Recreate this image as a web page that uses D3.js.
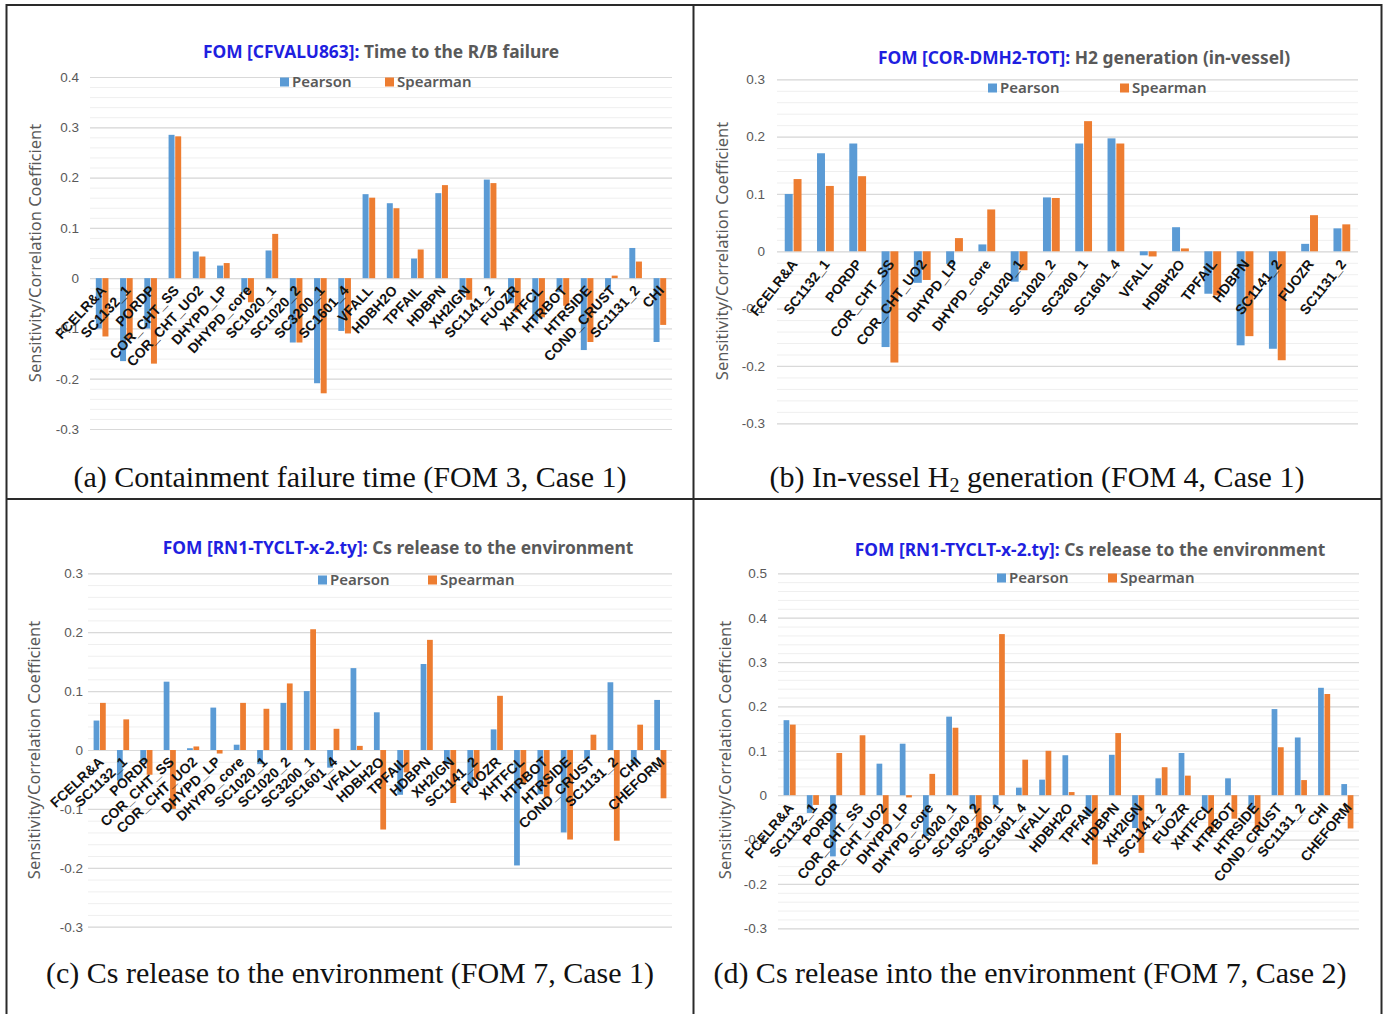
<!DOCTYPE html>
<html>
<head>
<meta charset="utf-8">
<script src="https://cdn.jsdelivr.net/npm/d3@7"></script>
<style>
  body { margin: 0; background: #fff; }
</style>
</head>
<body>
<div id="chart"></div>
<script>
// Categories for each panel
const catsA = ['FCELR&A', 'SC1132_1', 'PORDP', 'COR_CHT_SS', 'COR_CHT_UO2', 'DHYPD_LP', 'DHYPD_core',
  'SC1020_1', 'SC1020_2', 'SC3200_1', 'SC1601_4', 'VFALL', 'HDBH2O', 'TPFAIL', 'HDBPN', 'XH2IGN',
  'SC1141_2', 'FUOZR', 'XHTFCL', 'HTRBOT', 'HTRSIDE', 'COND_CRUST', 'SC1131_2', 'CHI'];
const catsB = ['FCELR&A', 'SC1132_1', 'PORDP', 'COR_CHT_SS', 'COR_CHT_UO2', 'DHYPD_LP', 'DHYPD_core',
  'SC1020_1', 'SC1020_2', 'SC3200_1', 'SC1601_4', 'VFALL', 'HDBH2O', 'TPFAIL', 'HDBPN',
  'SC1141_2', 'FUOZR', 'SC1131_2'];
const catsC = ['FCELR&A', 'SC1132_1', 'PORDP', 'COR_CHT_SS', 'COR_CHT_UO2', 'DHYPD_LP', 'DHYPD_core',
  'SC1020_1', 'SC1020_2', 'SC3200_1', 'SC1601_4', 'VFALL', 'HDBH2O', 'TPFAIL', 'HDBPN', 'XH2IGN',
  'SC1141_2', 'FUOZR', 'XHTFCL', 'HTRBOT', 'HTRSIDE', 'COND_CRUST', 'SC1131_2', 'CHI', 'CHEFORM'];
const catsD = catsC;

// Pearson / Spearman coefficients
const pearsonA = [-0.100, -0.165, -0.100, 0.285, 0.053, 0.025, -0.028, 0.055, -0.128, -0.209, -0.105, 0.167,
  0.149, 0.039, 0.169, -0.031, 0.196, -0.050, -0.085, -0.028, -0.143, -0.023, 0.060, -0.127];
const spearmanA = [-0.116, -0.120, -0.170, 0.282, 0.043, 0.030, -0.048, 0.088, -0.128, -0.229, -0.110, 0.160,
  0.139, 0.057, 0.185, -0.043, 0.189, -0.068, -0.078, -0.055, -0.127, 0.005, 0.033, -0.093];

const pearsonB = [0.100, 0.171, 0.188, -0.167, -0.055, -0.022, 0.012, -0.053, 0.094, 0.188, 0.197, -0.007,
  0.042, -0.074, -0.164, -0.170, 0.013, 0.040];
const spearmanB = [0.126, 0.114, 0.131, -0.194, -0.050, 0.023, 0.073, -0.033, 0.093, 0.227, 0.188, -0.009,
  0.005, -0.077, -0.148, -0.190, 0.063, 0.047];

const pearsonC = [0.050, -0.052, -0.020, 0.116, 0.003, 0.072, 0.009, -0.024, 0.080, 0.100, -0.030, 0.139,
  0.064, -0.076, 0.146, -0.024, -0.062, 0.035, -0.196, -0.075, -0.140, -0.015, 0.115, -0.024, 0.085];
const spearmanC = [0.080, 0.052, -0.042, -0.100, 0.006, -0.006, 0.080, 0.070, 0.113, 0.205, 0.036, 0.007,
  -0.135, -0.038, 0.187, -0.090, -0.049, 0.092, -0.058, -0.080, -0.152, 0.026, -0.154, 0.043, -0.082];

const pearsonD = [0.169, -0.040, -0.138, 0.000, 0.071, 0.116, -0.092, 0.177, -0.032, -0.022, 0.017, 0.035,
  0.090, -0.047, 0.091, -0.074, 0.038, 0.095, -0.035, 0.038, -0.032, 0.194, 0.130, 0.242, 0.025];
const spearmanD = [0.159, -0.022, 0.095, 0.135, -0.066, -0.005, 0.048, 0.152, -0.085, 0.363, 0.080, 0.100,
  0.007, -0.156, 0.140, -0.130, 0.063, 0.044, -0.081, -0.053, -0.077, 0.108, 0.034, 0.228, -0.075];

// Axis ticks
const ticksA = [-0.3, -0.2, -0.1, 0, 0.1, 0.2, 0.3, 0.4];
const ticksB = [-0.3, -0.2, -0.1, 0, 0.1, 0.2, 0.3];
const ticksC = [-0.3, -0.2, -0.1, 0, 0.1, 0.2, 0.3];
const ticksD = [-0.3, -0.2, -0.1, 0, 0.1, 0.2, 0.3, 0.4, 0.5];

const series = ['Pearson', 'Spearman'];
const colors = { Pearson: '#5B9BD5', Spearman: '#ED7D31' };
const yTitle = 'Sensitivity/Correlation Coefficient';

const width = 1387;
const height = 1014;

const svg = d3.select('#chart').append('svg')
  .attr('width', width)
  .attr('height', height)
  .style('font-family', '"Noto Sans", sans-serif');

svg.append('rect').attr('width', width).attr('height', height).attr('fill', '#fff');

const panels = [
  { cats: catsA, p: pearsonA, s: spearmanA, ticks: ticksA,
    x0: 90, x1: 672, yTop: 77, yBot: 429, tickX: 79, angle: -47,
    ylabX: 41, ylabY: 253, titleX: 381, titleY: 58,
    fom: 'FOM [CFVALU863]:', desc: 'Time to the R/B failure',
    legY: 82, legP: 280, legS: 385,
    capX: 350, capY: 487, cap: ['(a) Containment failure time (FOM 3, Case 1)'] },
  { cats: catsB, p: pearsonB, s: spearmanB, ticks: ticksB,
    x0: 777, x1: 1358, yTop: 79.3, yBot: 423.3, tickX: 765, angle: -52,
    ylabX: 728, ylabY: 251, titleX: 1084, titleY: 64,
    fom: 'FOM [COR-DMH2-TOT]:', desc: 'H2 generation (in-vessel)',
    legY: 88, legP: 988, legS: 1120,
    capX: 1037, capY: 487, cap: ['(b) In-vessel H', '2', ' generation (FOM 4, Case 1)'] },
  { cats: catsC, p: pearsonC, s: spearmanC, ticks: ticksC,
    x0: 88, x1: 672, yTop: 573.3, yBot: 926.7, tickX: 83, angle: -43,
    ylabX: 40, ylabY: 750, titleX: 398, titleY: 554,
    fom: 'FOM [RN1-TYCLT-x-2.ty]:', desc: 'Cs release to the environment',
    legY: 580, legP: 318, legS: 428,
    capX: 350, capY: 983, cap: ['(c) Cs release to the environment (FOM 7, Case 1)'] },
  { cats: catsD, p: pearsonD, s: spearmanD, ticks: ticksD,
    x0: 778, x1: 1359, yTop: 573.3, yBot: 928.3, tickX: 767, angle: -50,
    ylabX: 731, ylabY: 750, titleX: 1090, titleY: 556,
    fom: 'FOM [RN1-TYCLT-x-2.ty]:', desc: 'Cs release to the environment',
    legY: 578, legP: 997, legS: 1108,
    capX: 1030, capY: 983, cap: ['(d) Cs release into the environment (FOM 7, Case 2)'] }
];

panels.forEach(drawPanel);

function drawPanel(cfg) {
  const g = svg.append('g');
  const dom = [cfg.ticks[0], cfg.ticks[cfg.ticks.length - 1]];

  const yScale = d3.scaleLinear().domain(dom).range([cfg.yBot, cfg.yTop]);
  const xScale = d3.scaleBand().domain(cfg.cats).range([cfg.x0, cfg.x1]);
  const bw = xScale.bandwidth();
  const xSub = d3.scaleBand().domain(series).range([bw * 0.24, bw * 0.76]).paddingInner(0.1);

  // minor gridlines every 0.02
  const minor = d3.range(Math.round(dom[0] * 50), Math.round(dom[1] * 50) + 1).map(i => i / 50);
  const minorG = g.append('g')
    .attr('transform', `translate(${cfg.x0},0)`)
    .call(d3.axisLeft(yScale).tickValues(minor).tickSize(-(cfg.x1 - cfg.x0)).tickFormat(''));
  minorG.select('.domain').remove();
  minorG.selectAll('line').attr('stroke', '#efefef');

  // major gridlines
  const majorG = g.append('g')
    .attr('transform', `translate(${cfg.x0},0)`)
    .call(d3.axisLeft(yScale).tickValues(cfg.ticks).tickSize(-(cfg.x1 - cfg.x0)).tickFormat(''));
  majorG.select('.domain').remove();
  majorG.selectAll('line').attr('stroke', '#d9d9d9').attr('stroke-width', 1.2);

  // y tick labels
  const yAxis = g.append('g')
    .attr('transform', `translate(${cfg.tickX},0)`)
    .call(d3.axisLeft(yScale).tickValues(cfg.ticks).tickSize(0).tickPadding(0)
      .tickFormat(d => d === 0 ? '0' : d.toFixed(1)));
  yAxis.select('.domain').remove();
  yAxis.selectAll('text').attr('fill', '#595959').style('font-size', '13.5px');

  // bars
  series.forEach(s => {
    const vals = s === 'Pearson' ? cfg.p : cfg.s;
    g.append('g').selectAll('rect')
      .data(cfg.cats.map((c, i) => ({ c: c, v: vals[i] })))
      .enter().append('rect')
      .attr('x', d => xScale(d.c) + xSub(s))
      .attr('y', d => yScale(Math.max(0, d.v)))
      .attr('width', xSub.bandwidth())
      .attr('height', d => Math.abs(yScale(d.v) - yScale(0)))
      .attr('fill', colors[s]);
  });

  // category labels
  const xAxis = g.append('g')
    .attr('transform', `translate(0,${yScale(0)})`)
    .call(d3.axisBottom(xScale).tickSize(0));
  xAxis.select('.domain').remove();
  xAxis.selectAll('text')
    .attr('x', 0).attr('y', 0).attr('dy', 0)
    .attr('text-anchor', 'end')
    .attr('transform', `translate(5,13) rotate(${cfg.angle})`)
    .attr('fill', '#111')
    .style('font-size', '14px')
    .style('font-weight', 'bold');

  // y axis title
  g.append('text')
    .attr('transform', `translate(${cfg.ylabX},${cfg.ylabY}) rotate(-90)`)
    .attr('text-anchor', 'middle')
    .attr('fill', '#595959')
    .style('font-size', '16.5px')
    .text(yTitle);

  // chart title
  const title = g.append('text')
    .attr('x', cfg.titleX).attr('y', cfg.titleY)
    .attr('text-anchor', 'middle')
    .style('font-size', '17.4px')
    .style('font-weight', 'bold');
  title.append('tspan').attr('fill', '#1f1fe0').text(cfg.fom + ' ');
  title.append('tspan').attr('fill', '#595959').text(cfg.desc);

  // legend
  [[cfg.legP, 'Pearson'], [cfg.legS, 'Spearman']].forEach(([lx, s]) => {
    g.append('rect')
      .attr('x', lx).attr('y', cfg.legY - 4.5)
      .attr('width', 9).attr('height', 9)
      .attr('fill', colors[s]);
    g.append('text')
      .attr('x', lx + 12).attr('y', cfg.legY + 5)
      .attr('fill', '#595959')
      .style('font-size', '15px')
      .style('font-weight', '600')
      .text(s);
  });

  // caption
  const cap = g.append('text')
    .attr('x', cfg.capX).attr('y', cfg.capY)
    .attr('text-anchor', 'middle')
    .attr('fill', '#111')
    .style('font-family', '"Liberation Serif", "Times New Roman", serif')
    .style('font-size', '30px');
  cfg.cap.forEach((t, i) => {
    const ts = cap.append('tspan').text(t);
    if (cfg.cap.length > 1 && i === 1) {
      ts.style('font-size', '20px').attr('dy', 5);
    } else if (cfg.cap.length > 1 && i === 2) {
      ts.attr('dy', -5);
    }
  });
}

// panel frame
const frame = svg.append('g')
  .attr('fill', 'none')
  .attr('stroke', '#2a2a2a')
  .attr('stroke-width', 2);
frame.append('rect').attr('x', 6.5).attr('y', 5).attr('width', 1375).attr('height', 1020);
frame.append('line').attr('x1', 693.5).attr('x2', 693.5).attr('y1', 5).attr('y2', height);
frame.append('line').attr('x1', 6.5).attr('x2', 1381.5).attr('y1', 499).attr('y2', 499);
</script>
</body>
</html>
